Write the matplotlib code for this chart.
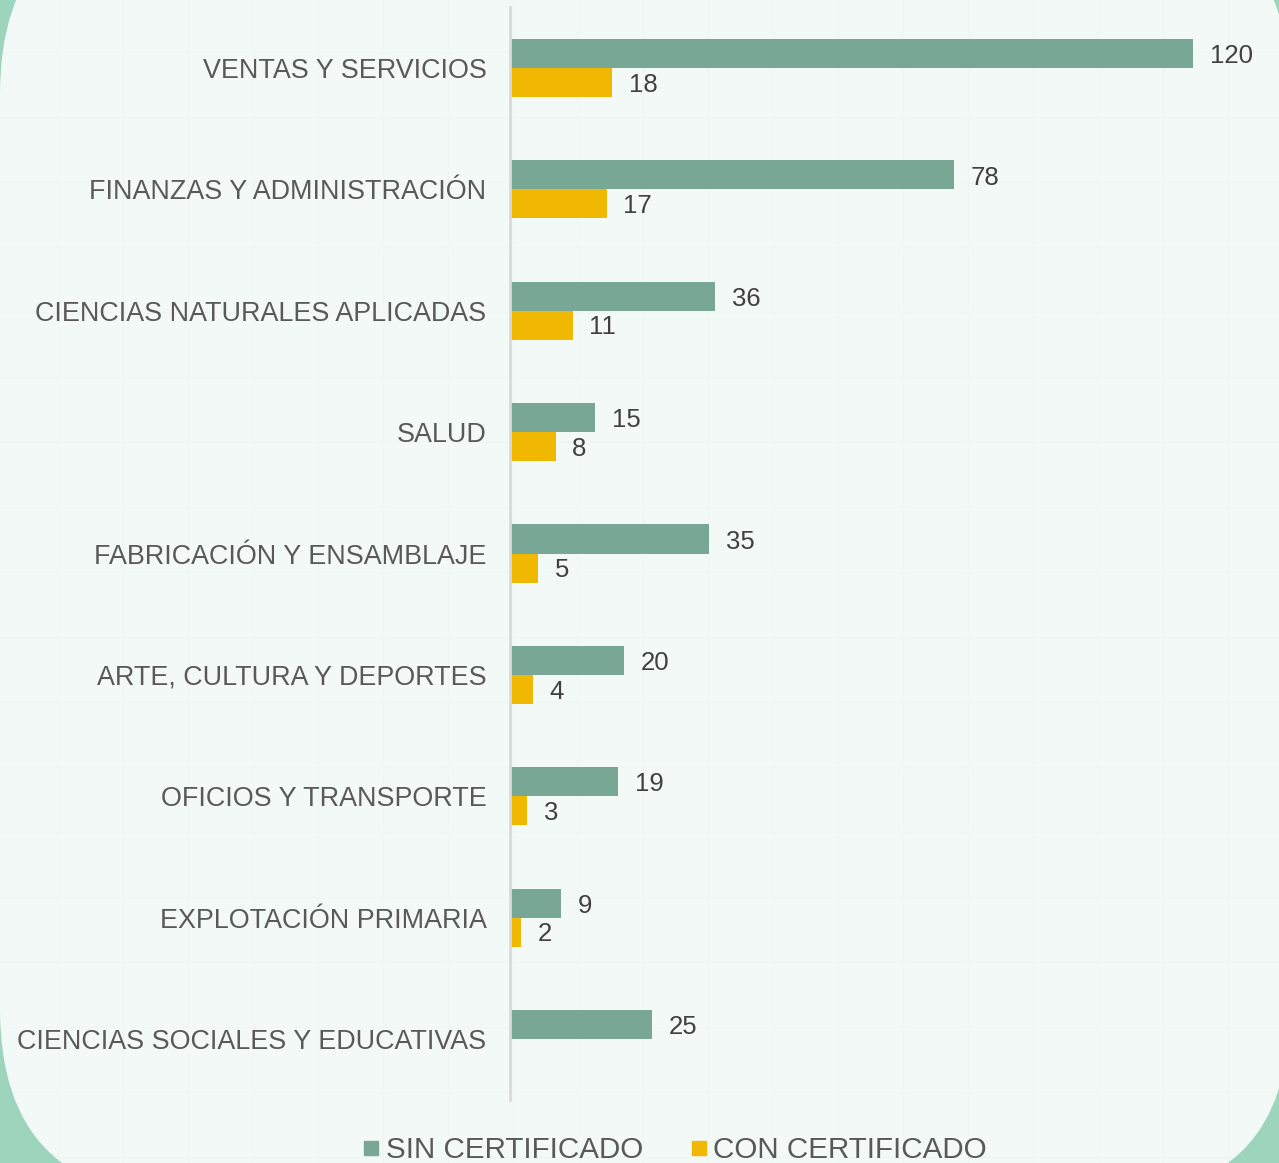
import numpy as np
import matplotlib
matplotlib.use("Agg")
import matplotlib.pyplot as plt
from matplotlib.patches import FancyBboxPatch
from matplotlib.lines import Line2D

categories = ["VENTAS Y SERVICIOS", "FINANZAS Y ADMINISTRACIÓN", "CIENCIAS NATURALES APLICADAS",
              "SALUD", "FABRICACIÓN Y ENSAMBLAJE", "ARTE, CULTURA Y DEPORTES",
              "OFICIOS Y TRANSPORTE", "EXPLOTACIÓN PRIMARIA", "CIENCIAS SOCIALES Y EDUCATIVAS"]
sin_cert = [120, 78, 36, 15, 35, 20, 19, 9, 25]
con_cert = [18, 17, 11, 8, 5, 4, 3, 2, None]
series_names = ["SIN CERTIFICADO", "CON CERTIFICADO"]

GREEN = "#78a895"
YELLOW = "#f0b800"
LABEL = "#595959"
VALUE = "#404040"

plt.rcParams['font.family'] = ['Liberation Sans', 'DejaVu Sans']

W, H = 1279, 1163
fig = plt.figure(figsize=(W / 100, H / 100), dpi=100)
fig.patch.set_facecolor("#9dd4bc")

# background card
bg = fig.add_axes([0, 0, 1, 1], zorder=0)
bg.set_xlim(0, W)
bg.set_ylim(0, H)
bg.axis("off")
R = 188
card = FancyBboxPatch((0 + R, -34 + R), 1290 - 2 * R, (1257 + 34) - 2 * R,
                      boxstyle=f"round,pad={R}", facecolor="#f3f9f7", edgecolor="none")
bg.add_patch(card)
# faint grid texture
for gx in np.arange(-7, W, 65):
    bg.plot([gx, gx], [0, H], color="#eff6f3", lw=1.0, zorder=1, clip_path=card)
for gy in np.arange((H - 962) % 65, H, 65):
    bg.plot([0, W], [gy, gy], color="#eff6f3", lw=1.0, zorder=1, clip_path=card)

ax = fig.add_axes([510 / W, (H - 1099.7) / H, 740 / W, (1099.7 - 7.3) / H], zorder=2)
ax.patch.set_alpha(0)
n = len(categories)
y = np.arange(n)
h = 0.24
sin_vals = np.array(sin_cert, dtype=float)
con_vals = np.array([np.nan if v is None else v for v in con_cert], dtype=float)

ax.barh(y - h / 2, sin_vals, height=h, color=GREEN, label=series_names[0])
ax.barh(y + h / 2, np.nan_to_num(con_vals), height=h, color=YELLOW, label=series_names[1])

for i, v in enumerate(sin_vals):
    ax.annotate(f"{int(v)}", (v, i - h / 2), xytext=(12, -2), textcoords="offset points",
                va="center", ha="left", fontsize=18.5, color=VALUE)
for i, v in enumerate(con_vals):
    if not np.isnan(v):
        ax.annotate(f"{int(v)}", (v, i + h / 2), xytext=(12, -1.5), textcoords="offset points",
                    va="center", ha="left", fontsize=18.5, color=VALUE)

ax.set_xlim(0, 130)
ax.set_ylim(n - 0.5, -0.5)
ax.set_yticks(y)
ax.set_yticklabels(categories, fontsize=19.4, color=LABEL)
ax.tick_params(axis="y", length=0, pad=17)
ax.set_xticks([])
for s in ["top", "right", "bottom"]:
    ax.spines[s].set_visible(False)
ax.spines["left"].set_color("#d9d9d9")
ax.spines["left"].set_linewidth(2)

handles = [Line2D([], [], marker="s", linestyle="none", markersize=9.5, color=GREEN),
           Line2D([], [], marker="s", linestyle="none", markersize=9.5, color=YELLOW)]
fig.legend(handles, series_names, loc="center", bbox_to_anchor=(674 / W, (H - 1150) / H),
           ncol=2, frameon=False, fontsize=21.3, handletextpad=0.14, columnspacing=1.53,
           labelcolor=LABEL, handlelength=0.7, borderpad=0)

fig.savefig("out.png", dpi=100, facecolor=fig.get_facecolor())
